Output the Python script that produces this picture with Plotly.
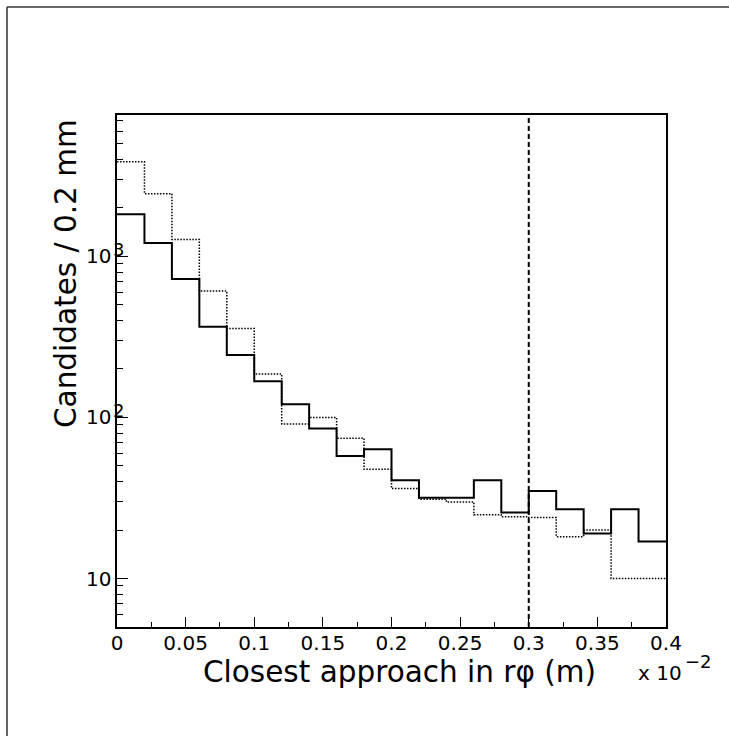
import math
import plotly.graph_objects as go

# Binning of the closest-approach distance (units of 10^-2 m), 20 bins of 0.02
BIN_EDGES = [0.00, 0.02, 0.04, 0.06, 0.08, 0.10, 0.12, 0.14, 0.16, 0.18, 0.20,
             0.22, 0.24, 0.26, 0.28, 0.30, 0.32, 0.34, 0.36, 0.38, 0.40]

# Candidate counts per bin: solid histogram
counts_solid = [1830, 1210, 725, 366, 244, 168, 121, 85.5, 57.7, 63.5,
                40.8, 31.7, 31.7, 40.8, 25.7, 35.0, 26.9, 19.0, 26.9, 17.0]

# Candidate counts per bin: dotted histogram
counts_dotted = [3870, 2450, 1275, 610, 357, 186, 91, 100, 74.3, 47.7,
                 36.2, 31.1, 29.9, 24.9, 24.2, 23.9, 18.2, 20.0, 10.0, 10.0]

# Selection cut
CUT_VALUE = 0.30

# Axis ranges and tick labels
X_RANGE = [0.0, 0.4]
Y_RANGE = [5, 7550]
X_TICKS = [0, 0.05, 0.1, 0.15, 0.2, 0.25, 0.3, 0.35, 0.4]
X_TICK_TEXT = ["0", "0.05", "0.1", "0.15", "0.2", "0.25", "0.3", "0.35", "0.4"]
X_MINOR = [0.025, 0.075, 0.125, 0.175, 0.225, 0.275, 0.325, 0.375]
Y_DECADES = [1, 2, 3]
Y_MINOR = [6, 7, 8, 9, 20, 30, 40, 50, 60, 70, 80, 90,
           200, 300, 400, 500, 600, 700, 800, 900,
           2000, 3000, 4000, 5000, 6000, 7000]

FONT = "DejaVu Sans"
W, H = 730, 736
L, R, T, B = 117, 64, 115, 109
PW, PH = W - L - R, H - T - B


def px(xpix):
    return (xpix - L) / PW


def py(ypix):
    return (H - B - ypix) / PH


def step_y(vals):
    return list(vals) + [vals[-1]]


fig = go.Figure()

fig.add_trace(go.Scatter(
    x=BIN_EDGES, y=step_y(counts_dotted), mode="lines", line_shape="hv",
    line=dict(color="black", width=1.5, dash="1.5px,1.5px"),
    showlegend=False, hoverinfo="skip"))

fig.add_trace(go.Scatter(
    x=BIN_EDGES, y=step_y(counts_solid), mode="lines", line_shape="hv",
    line=dict(color="black", width=2),
    showlegend=False, hoverinfo="skip"))

# vertical cut line
fig.add_shape(type="line", xref="x", yref="paper", x0=CUT_VALUE, x1=CUT_VALUE,
              y0=0, y1=1, line=dict(color="black", width=2, dash="5px,3px"))

# canvas bevel (top and left edges)
fig.add_shape(type="line", xref="paper", yref="paper",
              x0=px(7), x1=px(W - 1), y0=py(7), y1=py(7),
              line=dict(color="#666666", width=2))
fig.add_shape(type="line", xref="paper", yref="paper",
              x0=px(7), x1=px(7), y0=py(7), y1=py(H),
              line=dict(color="#333333", width=1.5))

annotations = []
# y tick labels: mantissa and exponent
for d in Y_DECADES:
    annotations.append(dict(text="10", xref="paper", yref="y", x=px(113), y=d,
                            xanchor="right", yanchor="middle", showarrow=False,
                            font=dict(family=FONT, size=20, color="black")))
    if d > 1:
        annotations.append(dict(text=str(d), xref="paper", yref="y", x=px(111),
                                y=d + 7 / 161.0, xanchor="left", yanchor="middle",
                                showarrow=False,
                                font=dict(family=FONT, size=18, color="black")))

annotations += [
    dict(text="Candidates / 0.2 mm", textangle=-90, xref="paper", yref="paper",
         x=px(66), y=py(274), xanchor="center", yanchor="middle", showarrow=False,
         font=dict(family=FONT, size=29.5, color="black")),
    dict(text="Closest approach in r\u03c6 (m)", xref="paper", yref="paper",
         x=px(598), y=py(672), xanchor="right", yanchor="middle", showarrow=False,
         font=dict(family=FONT, size=29.5, color="black")),
    dict(text="x 10", xref="paper", yref="paper",
         x=px(636), y=py(673), xanchor="left", yanchor="middle", showarrow=False,
         font=dict(family=FONT, size=20, color="black")),
    dict(text="\u22122", xref="paper", yref="paper",
         x=px(683), y=py(661), xanchor="left", yanchor="middle", showarrow=False,
         font=dict(family=FONT, size=18, color="black")),
]

fig.update_layout(
    width=W, height=H,
    margin=dict(l=L, r=R, t=T, b=B, pad=0),
    paper_bgcolor="white", plot_bgcolor="white",
    font=dict(family=FONT, size=20, color="black"),
    showlegend=False,
    annotations=annotations,
    xaxis=dict(
        range=X_RANGE, showgrid=False, zeroline=False,
        showline=True, linecolor="black", linewidth=2, mirror=True,
        tickmode="array", tickvals=X_TICKS, ticktext=X_TICK_TEXT,
        ticks="inside", ticklen=10, tickwidth=1, tickcolor="black",
        ticklabelstandoff=-3,
        tickfont=dict(family=FONT, size=20, color="black"),
        minor=dict(tickmode="array", tickvals=X_MINOR, ticks="inside",
                   ticklen=5, tickwidth=1, tickcolor="black", showgrid=False),
    ),
    yaxis=dict(
        type="log", range=[math.log10(Y_RANGE[0]), math.log10(Y_RANGE[1])],
        showgrid=False, zeroline=False,
        showline=True, linecolor="black", linewidth=2, mirror=True,
        tickmode="array", tickvals=[10 ** d for d in Y_DECADES],
        showticklabels=False,
        ticks="inside", ticklen=11, tickwidth=1, tickcolor="black",
        minor=dict(tickmode="array", tickvals=Y_MINOR, ticks="inside",
                   ticklen=6, tickwidth=1, tickcolor="black", showgrid=False),
    ),
)

fig.write_html("out.html")
